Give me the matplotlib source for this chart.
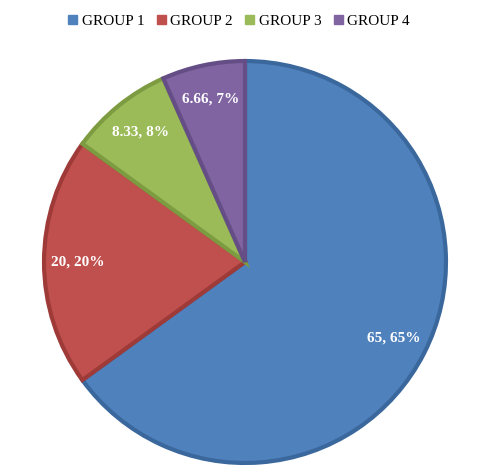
import matplotlib
matplotlib.use("Agg")
import matplotlib.pyplot as plt
from matplotlib.patches import Patch

groups = ["GROUP 1", "GROUP 2", "GROUP 3", "GROUP 4"]
values = [65, 20, 8.33, 6.66]
pct_labels = ["65%", "20%", "8%", "7%"]
colors = ["#4F81BD", "#C0504D", "#9BBB59", "#8064A2"]
edges = ["#3A679C", "#9E3A38", "#7D9B40", "#654D85"]

plt.rcParams['font.family'] = ['Liberation Serif', 'DejaVu Serif']
fig = plt.figure(figsize=(4.78, 4.73), dpi=100)
ax = fig.add_axes([40/478, 6/473, 410/478, 410/473])
wedges, _ = ax.pie(values, colors=colors, startangle=90, counterclock=False,
                   wedgeprops=dict(linewidth=3))
for w, e in zip(wedges, edges):
    w.set_edgecolor(e)
import numpy as np
total = sum(values)
ang = 90.0
for v, p in zip(values, pct_labels):
    mid = np.deg2rad(ang - v / total * 180)
    ang -= v / total * 360
    ax.text(0.83*np.cos(mid), 0.83*np.sin(mid), f"{v:g}, {p}", color="white",
            fontsize=11, fontweight="bold", ha="center", va="center")
ax.set_xlim(-1.02, 1.02); ax.set_ylim(-1.02, 1.02)
ax.set_aspect("equal")
fig.legend(handles=[Patch(color=c, label=g) for c, g in zip(colors, groups)],
           loc="center", bbox_to_anchor=(0.5, 0.955), ncol=4, frameon=False,
           fontsize=11, handlelength=0.6, handleheight=0.6, columnspacing=0.8,
           handletextpad=0.3)
fig.savefig("out.png", dpi=100)
